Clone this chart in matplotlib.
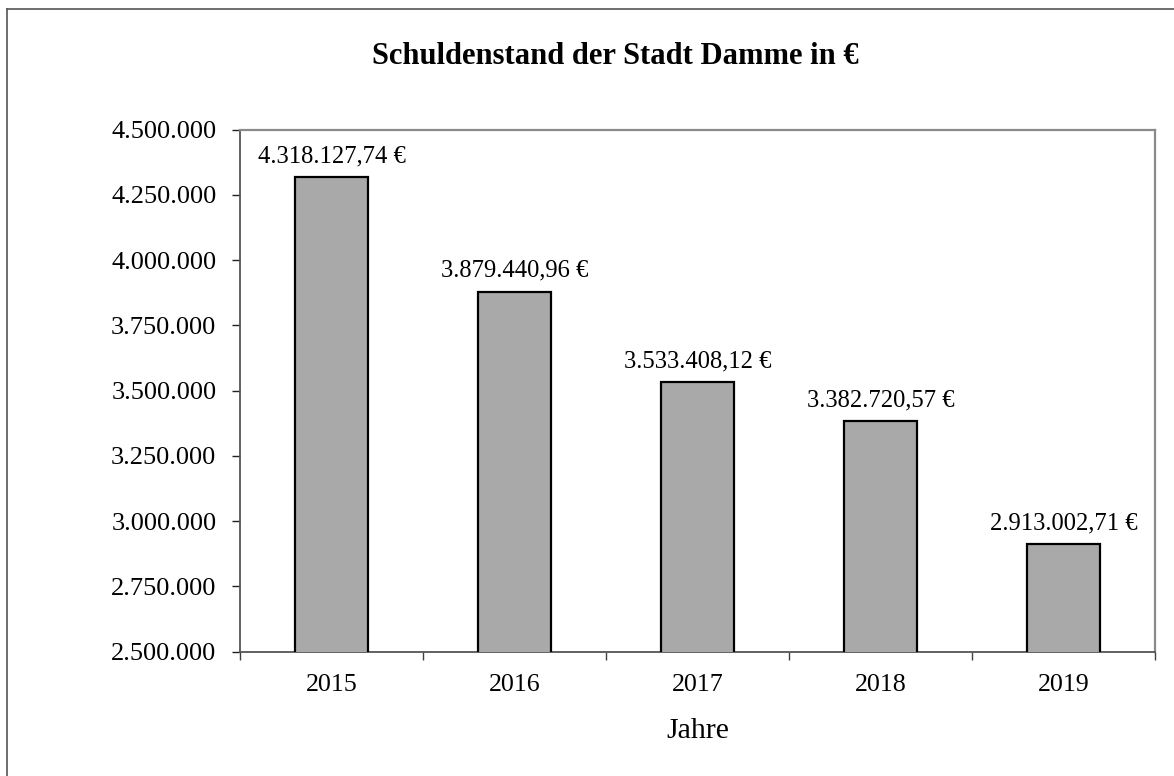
import matplotlib
matplotlib.use('Agg')
import matplotlib.pyplot as plt
from matplotlib.ticker import FuncFormatter, MultipleLocator, FixedLocator
from matplotlib.lines import Line2D

plt.rcParams['font.family'] = ['Liberation Serif', 'DejaVu Serif']

jahre = ['2015', '2016', '2017', '2018', '2019']
schulden = [4318127.74, 3879440.96, 3533408.12, 3382720.57, 2913002.71]
beschriftung = ['4.318.127,74 €', '3.879.440,96 €', '3.533.408,12 €',
                '3.382.720,57 €', '2.913.002,71 €']


def tausender(v, pos):
    return f'{int(round(v)):,}'.replace(',', '.')


fig = plt.figure(figsize=(11.74, 7.76), dpi=100)
ax = fig.add_axes([240 / 1174, 1 - 651.7 / 776, 915 / 1174, 522.2 / 776])

x = list(range(len(jahre)))
ax.bar(x, schulden, width=0.4, color='#a9a9a9', edgecolor='black', linewidth=1.6, zorder=3)

for xi, v, txt in zip(x, schulden, beschriftung):
    ax.annotate(txt, (xi, v), xytext=(0, 7), textcoords='offset points',
                ha='center', va='bottom', fontsize=17.7)

ax.set_ylim(2500000, 4500000)
ax.set_xlim(-0.5, len(jahre) - 0.5)
ax.yaxis.set_major_locator(MultipleLocator(250000))
ax.yaxis.set_major_formatter(FuncFormatter(tausender))

# labels at the centres, tick marks between the categories
ax.xaxis.set_major_locator(FixedLocator([i - 0.5 for i in range(len(jahre) + 1)]))
ax.xaxis.set_major_formatter(FuncFormatter(lambda v, p: ''))
ax.xaxis.set_minor_locator(FixedLocator(x))
ax.set_xticklabels(jahre, minor=True)
ax.tick_params(axis='x', which='minor', length=0, pad=16, labelsize=18.7)
ax.tick_params(axis='x', which='major', length=5.5, width=1, color='#404040', direction='out')
ax.tick_params(axis='y', length=6, width=1, color='#202020', direction='out', pad=11, labelsize=19)

for s in ['left', 'bottom']:
    ax.spines[s].set_color('#555555')
    ax.spines[s].set_linewidth(1.3)
for s in ['top', 'right']:
    ax.spines[s].set_color('#8a8a8a')
    ax.spines[s].set_linewidth(1.6)

ax.set_xlabel('Jahre', fontsize=21.5, labelpad=16)
fig.text(0.524, 1 - 56 / 776, 'Schuldenstand der Stadt Damme in €', ha='center', va='center',
         fontsize=22, fontweight='bold')

# outer chart frame (only left and top visible)
fig.add_artist(Line2D([7 / 1174, 7 / 1174], [0, 1 - 8.5 / 776], transform=fig.transFigure,
                      color='#555555', linewidth=1.2))
fig.add_artist(Line2D([7 / 1174, 1], [1 - 8.5 / 776, 1 - 8.5 / 776], transform=fig.transFigure,
                      color='#555555', linewidth=1.2))

fig.savefig('out.png', dpi=100)
